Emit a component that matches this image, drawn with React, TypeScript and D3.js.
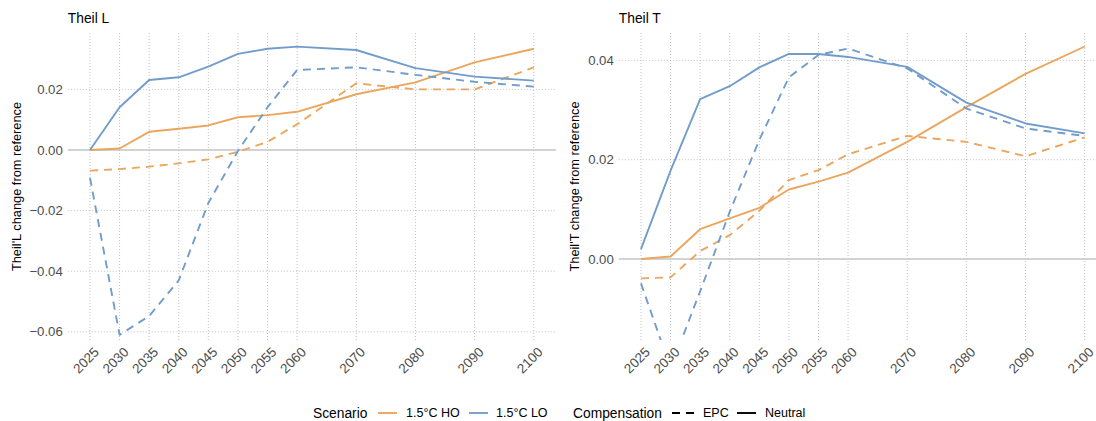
import React from "react";
import * as d3 from "d3";

const years = [2025, 2030, 2035, 2040, 2045, 2050, 2055, 2060, 2070, 2080, 2090, 2100];

// Theil L
const L_HO_Neutral = [0, 0.0005, 0.006, 0.007, 0.0081, 0.0108, 0.0115, 0.0126, 0.0184, 0.0223, 0.0289, 0.0334];
const L_HO_EPC = [-0.0068, -0.0063, -0.0055, -0.0044, -0.0031, -0.0006, 0.0027, 0.0085, 0.022, 0.0200, 0.0200, 0.0273];
const L_LO_Neutral = [0, 0.0141, 0.0231, 0.024, 0.0275, 0.0317, 0.0334, 0.0341, 0.033, 0.027, 0.0242, 0.0229];
const L_LO_EPC = [-0.0092, -0.0610, -0.0548, -0.043, -0.0175, -0.0003, 0.0141, 0.0264, 0.0273, 0.0248, 0.0225, 0.0209];

// Theil T
const T_HO_Neutral = [0, 0.0005, 0.006, 0.0082, 0.0103, 0.014, 0.0156, 0.0174, 0.0236, 0.0306, 0.0373, 0.0428];
const T_HO_EPC = [-0.0039, -0.0037, 0.0016, 0.0048, 0.0097, 0.0159, 0.0179, 0.0211, 0.0248, 0.0236, 0.0207, 0.0245];
const T_LO_Neutral = [0.002, 0.0178, 0.0322, 0.0348, 0.0386, 0.0413, 0.0413, 0.0407, 0.0387, 0.0315, 0.0273, 0.0253];
const T_LO_EPC = [-0.0049, -0.022, -0.0065, 0.0095, 0.024, 0.0366, 0.0411, 0.0424, 0.0384, 0.0303, 0.0263, 0.0248];

const L_ticks = [-0.06, -0.04, -0.02, 0, 0.02];
const T_ticks = [0, 0.02, 0.04];

const scenarios = ["1.5°C HO", "1.5°C LO"];
const compensations = ["EPC", "Neutral"];

const ORANGE = "#EBA65E";
const BLUE = "#729DCA";
const FONT = "'Liberation Sans', Arial, sans-serif";

type Series = { values: number[]; color: string; dashed: boolean };

function Panel(props: {
  id: string;
  title: string;
  ytitle: string;
  x0: number;
  x1: number;
  ydomain: [number, number];
  ticks: number[];
  series: Series[];
  ytitleX: number;
}) {
  const top = 33;
  const bottom = 340;
  const x = d3.scaleLinear().domain([2021.25, 2103.75]).range([props.x0, props.x1]);
  const y = d3.scaleLinear().domain(props.ydomain).range([bottom, top]);
  const line = d3
    .line<number>()
    .x((_, i) => x(years[i]))
    .y((v) => y(v));
  const fmt = (v: number) => {
    const s = d3.format(".2f")(Math.abs(v));
    return v < 0 ? "\u2212" + s : s;
  };
  return (
    <g>
      <defs>
        <clipPath id={props.id}>
          <rect x={props.x0} y={top} width={props.x1 - props.x0} height={bottom - top} />
        </clipPath>
      </defs>
      <text x={props.x0} y={23} fontSize={13.8} fill="#000" fontFamily={FONT}>
        {props.title}
      </text>
      {years.map((yr) => (
        <line
          key={"vg" + yr}
          x1={x(yr)}
          x2={x(yr)}
          y1={top}
          y2={bottom}
          stroke="#b3b3b3"
          strokeWidth={0.8}
          strokeDasharray="1,2"
        />
      ))}
      {props.ticks.map((t) =>
        t === 0 ? null : (
          <line
            key={"hg" + t}
            x1={props.x0}
            x2={props.x1}
            y1={y(t)}
            y2={y(t)}
            stroke="#b3b3b3"
            strokeWidth={0.8}
            strokeDasharray="1,2"
          />
        )
      )}
      <line x1={props.x0} x2={props.x1} y1={y(0)} y2={y(0)} stroke="#c4c4c4" strokeWidth={1.3} />
      <g clipPath={`url(#${props.id})`}>
        {props.series.map((s, i) => (
          <path
            key={i}
            d={line(s.values) || ""}
            fill="none"
            stroke={s.color}
            strokeWidth={1.9}
            strokeDasharray={s.dashed ? "8,6" : undefined}
            strokeLinejoin="round"
          />
        ))}
      </g>
      {props.ticks.map((t) => (
        <text
          key={"yl" + t}
          x={props.x0 - 5}
          y={y(t)}
          dy="0.35em"
          textAnchor="end"
          fontSize={13.2}
          fill="#4d4d4d"
          fontFamily={FONT}
        >
          {fmt(t)}
        </text>
      ))}
      {years.map((yr) => (
        <text
          key={"xl" + yr}
          transform={`translate(${x(yr) + 3},${346}) rotate(-45)`}
          dy="0.72em"
          textAnchor="end"
          fontSize={13.5}
          fill="#4d4d4d"
          fontFamily={FONT}
        >
          {yr}
        </text>
      ))}
      <text
        transform={`translate(${props.ytitleX},${(top + bottom) / 2}) rotate(-90)`}
        textAnchor="middle"
        dy="0.35em"
        fontSize={12.8}
        fill="#000"
        fontFamily={FONT}
      >
        {props.ytitle}
      </text>
    </g>
  );
}

export default function App() {
  const legendY = 413;
  return (
    <svg width={1096} height={421} style={{ position: "absolute", left: 0, top: 0, background: "#fff" }}>
      <Panel
        id="clipL"
        title="Theil L"
        ytitle="Theil'L change from reference"
        x0={67.8}
        x1={556}
        ydomain={[-0.0627, 0.03861]}
        ticks={L_ticks}
        ytitleX={17}
        series={[
          { values: L_HO_EPC, color: ORANGE, dashed: true },
          { values: L_HO_Neutral, color: ORANGE, dashed: false },
          { values: L_LO_EPC, color: BLUE, dashed: true },
          { values: L_LO_Neutral, color: BLUE, dashed: false },
        ]}
      />
      <Panel
        id="clipT"
        title="Theil T"
        ytitle="Theil'T change from reference"
        x0={618.8}
        x1={1106.9}
        ydomain={[-0.01631, 0.04552]}
        ticks={T_ticks}
        ytitleX={575}
        series={[
          { values: T_HO_EPC, color: ORANGE, dashed: true },
          { values: T_HO_Neutral, color: ORANGE, dashed: false },
          { values: T_LO_EPC, color: BLUE, dashed: true },
          { values: T_LO_Neutral, color: BLUE, dashed: false },
        ]}
      />
      <g fontFamily={FONT}>
        <text x={313} y={legendY} dy="0.35em" fontSize={13.8} fill="#000">
          Scenario
        </text>
        <line x1={378} x2={397} y1={legendY} y2={legendY} stroke={ORANGE} strokeWidth={1.9} />
        <text x={406} y={legendY} dy="0.35em" fontSize={12.5} fill="#000">
          {scenarios[0]}
        </text>
        <line x1={469} x2={488} y1={legendY} y2={legendY} stroke={BLUE} strokeWidth={1.9} />
        <text x={496} y={legendY} dy="0.35em" fontSize={12.5} fill="#000">
          {scenarios[1]}
        </text>
        <text x={573} y={legendY} dy="0.35em" fontSize={13.8} fill="#000">
          Compensation
        </text>
        <line x1={672} x2={694} y1={legendY} y2={legendY} stroke="#000" strokeWidth={1.9} strokeDasharray="8,6" />
        <text x={703} y={legendY} dy="0.35em" fontSize={12.5} fill="#000">
          {compensations[0]}
        </text>
        <line x1={737} x2={756} y1={legendY} y2={legendY} stroke="#000" strokeWidth={1.9} />
        <text x={765} y={legendY} dy="0.35em" fontSize={12.5} fill="#000">
          {compensations[1]}
        </text>
      </g>
    </svg>
  );
}
